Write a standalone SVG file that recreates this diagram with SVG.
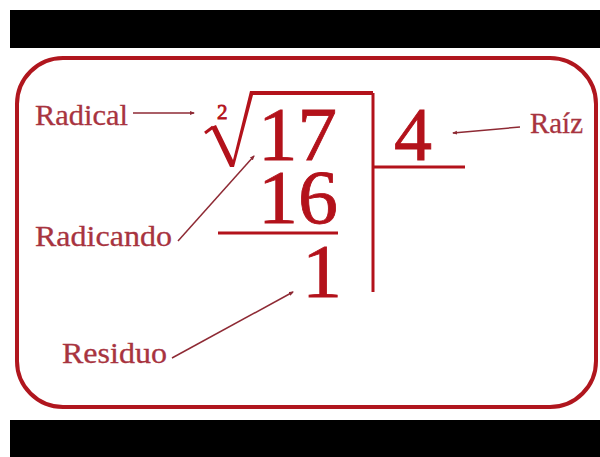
<svg xmlns="http://www.w3.org/2000/svg" width="600" height="457" viewBox="0 0 600 457">
<defs>
<style>
.band{fill:#000}
.frame{fill:none;stroke:#b0161e;stroke-width:4}
.num{font-family:"Liberation Serif","DejaVu Serif",serif;fill:#b3121b;stroke:#b3121b;stroke-width:0.8}
.lbl{font-family:"Liberation Serif","DejaVu Serif",serif;fill:#a8343f;stroke:#a8343f;stroke-width:0.3;font-size:29px}
.rule{stroke:#b3121b;stroke-width:3;fill:none}
.conn{stroke:#8e2a34;stroke-width:1.5;fill:none;marker-end:url(#ah)}
</style>
<marker id="ah" viewBox="0 0 10 10" refX="8" refY="5" markerWidth="5" markerHeight="5" orient="auto" markerUnits="userSpaceOnUse">
<path d="M0,1 L10,5 L0,9 z" fill="#8e2a34"/>
</marker>
</defs>
<rect width="600" height="457" fill="#fff"/>
<rect class="band" x="10" y="10" width="590" height="38"/>
<rect class="band" x="10" y="420" width="590" height="37"/>
<rect class="frame" x="17" y="58" width="579" height="349" rx="46" ry="46"/>

<g id="radical-sign">
<path class="rule" d="M205,133 L213,127"/>
<path d="M211,127 L216,125 L233,160 L250,91 L373,91 L373,95 L253,95 L234,167 L230,167 Z" fill="#b3121b"/>
<path class="rule" d="M373,93 L373,292"/>
<text class="num" x="217" y="119" font-size="21" stroke-width="0.3">2</text>
</g>
<g id="radicando-value">
<text class="num" x="258" y="160" font-size="76" textLength="79" lengthAdjust="spacingAndGlyphs">17</text>
</g>
<g id="subtraendo">
<text class="num" x="258" y="223" font-size="76" textLength="80" lengthAdjust="spacingAndGlyphs">16</text>
<path class="rule" d="M218,233 L338,233"/>
</g>
<g id="residuo-value">
<text class="num" x="302" y="297" font-size="76" textLength="40" lengthAdjust="spacingAndGlyphs">1</text>
</g>
<g id="raiz-value">
<text class="num" x="394" y="160" font-size="76">4</text>
<path class="rule" d="M373,167 L465,167"/>
</g>

<g id="label-radical"><text class="lbl" x="35" y="125" textLength="93" lengthAdjust="spacingAndGlyphs">Radical</text></g>
<g id="label-radicando"><text class="lbl" x="35" y="246" textLength="137" lengthAdjust="spacingAndGlyphs">Radicando</text></g>
<g id="label-residuo"><text class="lbl" x="62" y="363" textLength="105" lengthAdjust="spacingAndGlyphs">Residuo</text></g>
<g id="label-raiz"><text class="lbl" x="530" y="133" font-size="28" textLength="53" lengthAdjust="spacingAndGlyphs">Raíz</text></g>

<g id="connectors">
<path class="conn" d="M133,113 L194,113"/>
<path class="conn" d="M520,127 L453,133"/>
<path class="conn" d="M178,241 L254,156"/>
<path class="conn" d="M172,358 L293,292"/>
</g>
</svg>
